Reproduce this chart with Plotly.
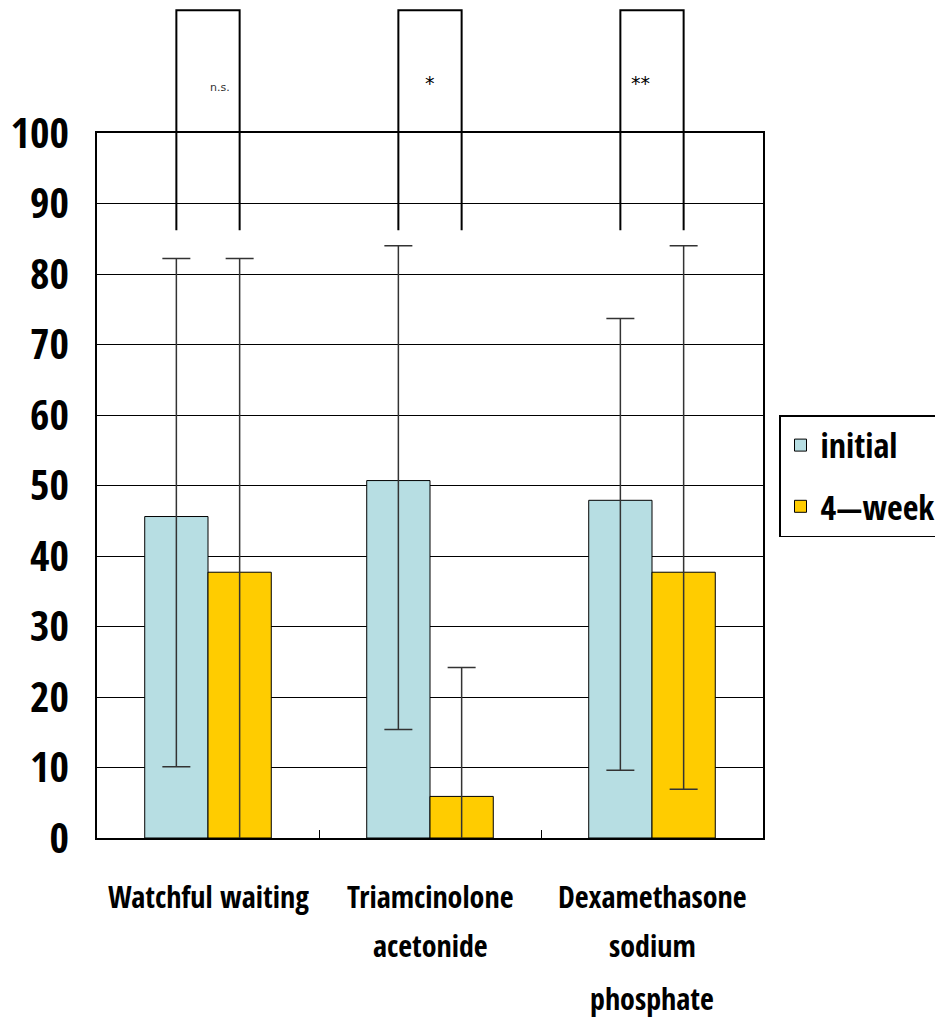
import plotly.graph_objects as go

categories = ["Watchful waiting", "Triamcinolone acetonide", "Dexamethasone sodium phosphate"]
label_lines = [["Watchful waiting"], ["Triamcinolone", "acetonide"], ["Dexamethasone", "sodium", "phosphate"]]
series_names = ["initial", "4\u2014week"]
initial = [45.6, 50.7, 47.9]
initial_plus = [36.6, 33.3, 25.8]
initial_minus = [35.5, 35.3, 38.3]
week4 = [37.7, 5.9, 37.7]
week4_plus = [44.5, 18.3, 46.3]
week4_minus = [44.5, 18.3, 30.8]
significance = ["n.s.", "*", "**"]
y_ticks = [0, 10, 20, 30, 40, 50, 60, 70, 80, 90, 100]

FONT = "Open Sans Condensed, Roboto Condensed, DejaVu Sans Condensed, sans-serif"
BLUE = "#B7DEE3"
GOLD = "#FFCC00"
ERR = "#333333"
BODY = 8  # default page margin of the html body

fig = go.Figure()
fig.add_trace(go.Bar(
    name=series_names[0], x=categories, y=initial, legendgroup="a",
    marker=dict(color=BLUE, line=dict(color="black", width=1)),
    error_y=dict(type="data", symmetric=False, array=initial_plus, arrayminus=initial_minus,
                 color=ERR, thickness=1.5, width=14),
))
fig.add_trace(go.Bar(
    name=series_names[1], x=categories, y=week4, legendgroup="b",
    marker=dict(color=GOLD, line=dict(color="black", width=1)),
    error_y=dict(type="data", symmetric=False, array=week4_plus, arrayminus=week4_minus,
                 color=ERR, thickness=1.5, width=14),
))

bargap = 0.43
half = (1 - bargap) / 4  # offset of each bar center from category center
n = len(categories)
br_bottom, br_top = 86.2, 117.4
for i, sig in enumerate(significance):
    x0 = (i + 0.5 - half) / n
    x1 = (i + 0.5 + half) / n
    path = f"M {x0},{br_bottom/100} L {x0},{br_top/100} L {x1},{br_top/100} L {x1},{br_bottom/100}"
    fig.add_shape(type="path", path=path, xref="paper", yref="paper",
                  line=dict(color="black", width=2))
    is_ns = sig == "n.s."
    fig.add_annotation(x=(i + 0.5) / n, y=1.076 if is_ns else 1.09, xref="paper", yref="paper",
                       text=sig, showarrow=False,
                       font=dict(family="DejaVu Sans, sans-serif", size=11 if is_ns else 19,
                                 color="#333" if is_ns else "black"))

line_y = [-0.0823, -0.153, -0.227]
for cat, lines in zip(categories, label_lines):
    for j, ln in enumerate(lines):
        fig.add_annotation(x=cat, xref="x", y=line_y[j], yref="paper", text=ln,
                           showarrow=False, yanchor="middle",
                           font=dict(family=FONT, size=30, color="black", weight="bold"))

fig.update_layout(
    width=943, height=1017,
    margin=dict(l=97 - BODY, r=943 - 763 + BODY, t=133 - BODY, b=1017 - 838 + BODY),
    paper_bgcolor="white", plot_bgcolor="white",
    barmode="group", bargap=bargap, bargroupgap=0,
    showlegend=True,
    legend=dict(xref="container", yref="container", x=(779 - BODY) / 943, y=1 - (415 - BODY) / 1017,
                xanchor="left", yanchor="top",
                bordercolor="black", borderwidth=1.5, bgcolor="white",
                font=dict(family=FONT, size=34, color="black", weight="bold"),
                itemwidth=30, tracegroupgap=14),
    xaxis=dict(range=[-0.5, 2.5], showticklabels=False, showline=True, linecolor="black",
               linewidth=1.5, mirror=True, automargin=False,
               ticks="inside", ticklen=8, tickcolor="black", tickson="boundaries", showgrid=False),
    yaxis=dict(range=[0, 100], tickvals=y_ticks, showline=True, linecolor="black", linewidth=1.5,
               mirror=True, ticks="", showgrid=True, gridcolor="black", gridwidth=1,
               zeroline=False, ticklabelstandoff=18, automargin=False,
               tickfont=dict(family=FONT, size=42, color="black", weight="bold")),
)

fig.write_html("out.html")
